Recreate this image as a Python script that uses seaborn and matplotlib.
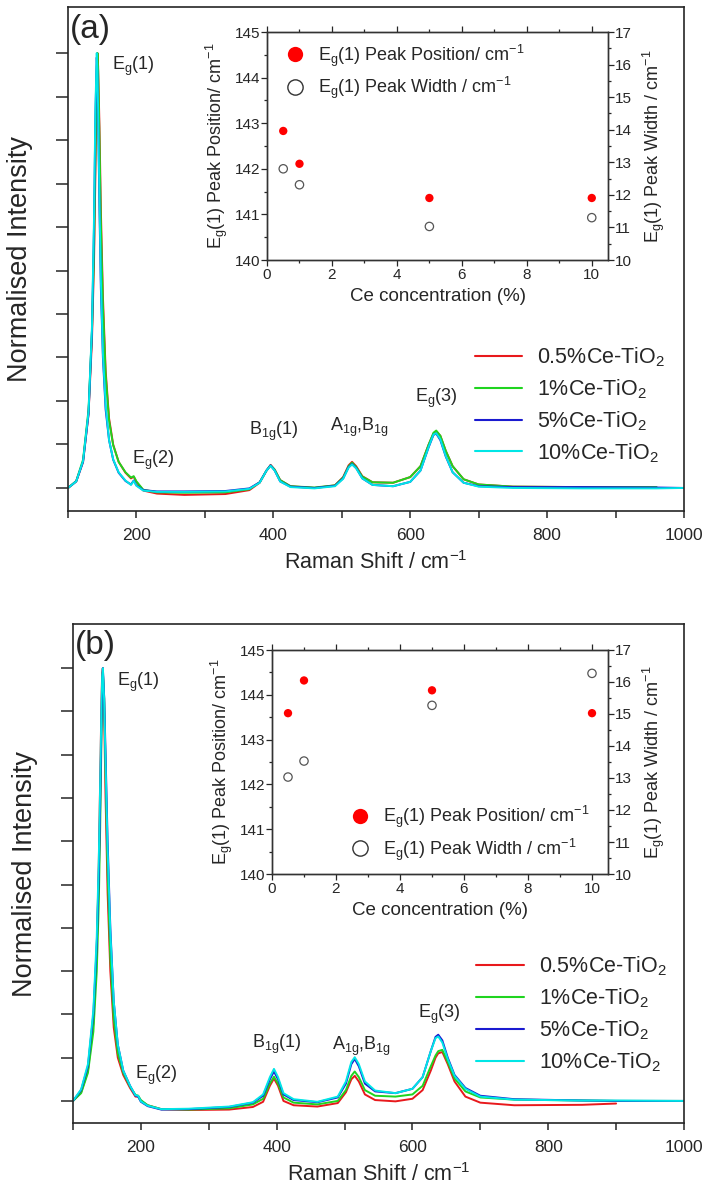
import numpy as np
import pandas as pd
import matplotlib
matplotlib.use("Agg")
import matplotlib.pyplot as plt
from matplotlib.ticker import MultipleLocator, NullFormatter
from matplotlib.lines import Line2D
import seaborn as sns

sns.set_style("ticks")
plt.rcParams["font.family"] = ["Liberation Sans", "DejaVu Sans"]
plt.rcParams["mathtext.fontset"] = "custom"
plt.rcParams["mathtext.rm"] = "Liberation Sans"
plt.rcParams["mathtext.it"] = "Liberation Sans:italic"
plt.rcParams["mathtext.bf"] = "Liberation Sans:bold"

# ---------------- data ----------------
samples = ["0.5%Ce-TiO$_2$", "1%Ce-TiO$_2$", "5%Ce-TiO$_2$", "10%Ce-TiO$_2$"]
colors = ["#e8191c", "#1fd41f", "#1a1ad0", "#00e6e6"]

shift_a = [100, 112, 122, 130, 135, 138, 140, 142, 143, 144, 146, 148, 151, 155, 160, 166, 174, 184, 192, 196,
           200, 210, 230, 270, 330, 365, 380, 390, 396, 402, 410, 425, 460, 490, 502, 510, 515, 521, 530, 545,
           575, 600, 615, 627, 634, 638, 644, 652, 662, 678, 700, 750, 850, 960, 1000]
a_05 = [0.0, 0.015, 0.06, 0.17, 0.34, 0.52, 0.72, 0.93, 1.0, 0.97, 0.83, 0.64, 0.44, 0.27, 0.16, 0.10, 0.06, 0.035, 0.022, 0.026,
        0.014, -0.006, -0.013, -0.016, -0.014, -0.005, 0.012, 0.04, 0.053, 0.042, 0.018, 0.004, 0.0, 0.006, 0.025, 0.052, 0.06, 0.05, 0.027, 0.013,
        0.012, 0.025, 0.05, 0.10, 0.125, 0.13, 0.12, 0.085, 0.05, 0.02, 0.008, 0.003, 0.002, 0.001, np.nan]
a_1 = [0.0, 0.016, 0.065, 0.18, 0.36, 0.55, 0.76, 0.96, 1.0, 0.96, 0.80, 0.61, 0.42, 0.26, 0.155, 0.098, 0.06, 0.036, 0.024, 0.027,
       0.015, -0.004, -0.010, -0.011, -0.010, -0.003, 0.013, 0.04, 0.052, 0.042, 0.018, 0.004, 0.001, 0.006, 0.024, 0.05, 0.058, 0.048, 0.026, 0.013,
       0.012, 0.025, 0.05, 0.10, 0.127, 0.132, 0.12, 0.085, 0.05, 0.02, 0.008, 0.003, 0.002, 0.002, np.nan]
a_5 = [0.0, 0.015, 0.06, 0.17, 0.36, 0.60, 0.85, 0.99, 0.95, 0.85, 0.64, 0.46, 0.30, 0.18, 0.11, 0.065, 0.035, 0.016, 0.008, 0.017,
       0.006, -0.005, -0.008, -0.008, -0.007, -0.001, 0.013, 0.04, 0.052, 0.04, 0.015, 0.003, 0.0, 0.005, 0.022, 0.048, 0.055, 0.046, 0.022, 0.007,
       0.004, 0.014, 0.04, 0.094, 0.122, 0.125, 0.11, 0.072, 0.036, 0.012, 0.004, 0.002, 0.002, 0.001, 0.0]
a_10 = [0.0, 0.015, 0.062, 0.175, 0.37, 0.62, 0.87, 1.0, 0.96, 0.87, 0.66, 0.48, 0.31, 0.19, 0.11, 0.066, 0.036, 0.017, 0.007, 0.016,
        0.005, -0.006, -0.009, -0.009, -0.008, -0.002, 0.012, 0.04, 0.051, 0.04, 0.015, 0.002, -0.001, 0.004, 0.021, 0.047, 0.054, 0.045, 0.022, 0.007,
        0.004, 0.014, 0.04, 0.095, 0.123, 0.126, 0.112, 0.073, 0.036, 0.012, 0.003, 0.0, -0.001, -0.001, 0.0]

shift_b = [100, 112, 122, 130, 135, 138, 140, 142, 143, 144, 146, 148, 151, 155, 160, 166, 174, 184, 192, 196,
           200, 210, 230, 270, 330, 365, 380, 390, 396, 402, 410, 425, 460, 490, 502, 510, 515, 521, 530, 545,
           575, 600, 615, 627, 634, 638, 644, 652, 662, 678, 700, 750, 850, 900, 1000]
b_05 = [0.0, 0.02, 0.07, 0.18, 0.35, 0.55, 0.74, 0.93, 0.99, 1.0, 0.88, 0.70, 0.48, 0.30, 0.17, 0.10, 0.06, 0.03, 0.01, 0.01,
        0.0, -0.01, -0.019, -0.021, -0.020, -0.014, -0.002, 0.035, 0.052, 0.035, 0.0, -0.010, -0.013, -0.005, 0.02, 0.05, 0.058, 0.045, 0.015, 0.002,
        -0.001, 0.005, 0.025, 0.07, 0.10, 0.11, 0.113, 0.085, 0.045, 0.01, -0.004, -0.010, -0.009, -0.006, np.nan]
b_1 = [0.0, 0.018, 0.065, 0.16, 0.30, 0.46, 0.63, 0.85, 0.94, 0.99, 0.93, 0.76, 0.53, 0.33, 0.19, 0.11, 0.065, 0.033, 0.014, 0.012,
       0.002, -0.01, -0.019, -0.020, -0.017, -0.008, 0.005, 0.04, 0.056, 0.04, 0.008, -0.004, -0.008, 0.0, 0.025, 0.058, 0.068, 0.055, 0.025, 0.012,
       0.01, 0.015, 0.035, 0.08, 0.105, 0.115, 0.118, 0.09, 0.052, 0.022, 0.008, 0.003, 0.001, 0.0, 0.0]
b_5 = [0.0, 0.025, 0.08, 0.20, 0.36, 0.52, 0.68, 0.88, 0.96, 1.0, 0.93, 0.80, 0.60, 0.40, 0.23, 0.13, 0.07, 0.035, 0.012, 0.01,
       -0.002, -0.012, -0.020, -0.019, -0.014, -0.004, 0.012, 0.05, 0.068, 0.05, 0.015, 0.002, -0.003, 0.008, 0.04, 0.085, 0.097, 0.08, 0.04, 0.022,
       0.018, 0.028, 0.055, 0.115, 0.148, 0.153, 0.14, 0.10, 0.06, 0.03, 0.012, 0.004, 0.001, 0.0, 0.0]
b_10 = [0.0, 0.027, 0.085, 0.21, 0.38, 0.56, 0.73, 0.92, 0.98, 1.0, 0.92, 0.78, 0.58, 0.39, 0.23, 0.13, 0.07, 0.035, 0.013, 0.012,
        -0.001, -0.011, -0.019, -0.018, -0.013, -0.003, 0.015, 0.055, 0.074, 0.055, 0.018, 0.004, -0.002, 0.01, 0.045, 0.09, 0.101, 0.085, 0.045, 0.024,
        0.018, 0.028, 0.055, 0.115, 0.145, 0.149, 0.135, 0.097, 0.058, 0.028, 0.01, 0.003, 0.001, 0.001, 0.0]

conc = [0.5, 1, 5, 10]
pos_a = [142.83, 142.11, 141.36, 141.36]
width_a = [12.80, 12.31, 11.03, 11.30]
pos_b = [143.59, 144.32, 144.10, 143.59]
width_b = [13.03, 13.53, 15.27, 16.27]

peak_labels = ["E$_{\\mathregular{g}}$(1)", "E$_{\\mathregular{g}}$(2)", "B$_{\\mathregular{1g}}$(1)",
               "A$_{\\mathregular{1g}}$,B$_{\\mathregular{1g}}$", "E$_{\\mathregular{g}}$(3)"]

# ---------------- figure ----------------
W, H = 709, 1199
fig = plt.figure(figsize=(W / 100, H / 100), dpi=100)


def rect(l, r, t, b):
    return [l / W, 1 - b / H, (r - l) / W, (b - t) / H]


def long_df(shift, series):
    frames = []
    for name, vals in zip(samples, series):
        frames.append(pd.DataFrame({"shift": shift, "intensity": vals, "sample": name}))
    return pd.concat(frames, ignore_index=True).dropna()


def main_panel(r, shift, series, ylim, tag, label_pos, leg_anchor):
    ax = fig.add_axes(r)
    df = long_df(shift, series)
    sns.lineplot(data=df, x="shift", y="intensity", hue="sample", hue_order=samples,
                 palette=colors, estimator=None, sort=True, lw=1.4, ax=ax, legend=False)
    ax.set_xlim(100, 1000)
    ax.set_ylim(*ylim)
    ax.xaxis.set_major_locator(MultipleLocator(200))
    ax.xaxis.set_minor_locator(MultipleLocator(100))
    ax.set_yticks(np.arange(0, 1.01, 0.1))
    ax.yaxis.set_major_formatter(NullFormatter())
    ax.tick_params(axis="x", which="both", direction="out", length=5, width=1.1, labelsize=12.5, pad=7)
    ax.tick_params(axis="y", which="both", direction="out", length=9, width=1.1, pad=2)
    for s in ax.spines.values():
        s.set_visible(True)
        s.set_linewidth(1.2)
    ax.set_xlabel("Raman Shift / cm$^{\\mathregular{-1}}$", fontsize=15.5, labelpad=6)
    ax.set_ylabel("Normalised Intensity", fontsize=19.5, labelpad=14)
    ax.text(103, ylim[1] - 0.015, tag, fontsize=24, ha="left", va="top")
    for txt, (x, y) in zip(peak_labels, label_pos):
        ax.text(x, y, txt, fontsize=13, ha="center", va="center")
    handles = [Line2D([], [], color=c, lw=1.5) for c in colors]
    ax.legend(handles, samples, loc="upper left", bbox_to_anchor=leg_anchor, frameon=False,
              fontsize=15.5, handlelength=2.2, handletextpad=0.7, labelspacing=0.38,
              borderpad=0, borderaxespad=0)
    return ax


def inset(r, pos, width, leg_loc, leg_anchor):
    ax = fig.add_axes(r)
    ax.set_facecolor("white")
    ax2 = ax.twinx()
    sns.scatterplot(x=conc, y=pos, ax=ax, color="#ff0000", s=36, edgecolor="none", zorder=3)
    sns.scatterplot(x=conc, y=width, ax=ax2, facecolor="none", edgecolor="#555555", s=36, linewidth=0.9, zorder=3)
    ax.set_xlim(0, 10.5)
    ax.set_ylim(140, 145)
    ax2.set_ylim(10, 17)
    ax.xaxis.set_major_locator(MultipleLocator(2))
    ax.xaxis.set_minor_locator(MultipleLocator(1))
    ax.yaxis.set_major_locator(MultipleLocator(1))
    ax.yaxis.set_minor_locator(MultipleLocator(0.5))
    ax2.yaxis.set_major_locator(MultipleLocator(1))
    ax2.yaxis.set_minor_locator(MultipleLocator(0.5))
    ax.tick_params(axis="x", which="both", direction="out", top=True, labelsize=11, pad=2)
    ax.tick_params(axis="x", which="major", length=4, width=0.9)
    ax.tick_params(axis="x", which="minor", length=2.5, width=0.9)
    ax.tick_params(axis="y", which="major", direction="out", length=4, width=0.9, labelsize=11, pad=1)
    ax.tick_params(axis="y", which="minor", direction="out", length=2.5, width=0.9)
    ax2.tick_params(axis="y", which="major", direction="out", length=4, width=0.9, labelsize=11, pad=1)
    ax2.tick_params(axis="y", which="minor", direction="out", length=2.5, width=0.9)
    for s in list(ax.spines.values()) + list(ax2.spines.values()):
        s.set_visible(True)
        s.set_linewidth(1.0)
        s.set_color("#333333")
    ax.set_xlabel("Ce concentration (%)", fontsize=13.5, labelpad=4)
    ax.set_ylabel("E$_{\\mathregular{g}}$(1) Peak Position/ cm$^{\\mathregular{-1}}$", fontsize=13, labelpad=3)
    ax2.set_ylabel("E$_{\\mathregular{g}}$(1) Peak Width / cm$^{\\mathregular{-1}}$", fontsize=13, labelpad=6)
    h1 = Line2D([], [], ls="none", marker="o", ms=11, mfc="#ff0000", mec="none")
    h2 = Line2D([], [], ls="none", marker="o", ms=11, mfc="none", mec="#333333", mew=1.0)
    ax2.legend([h1, h2], ["E$_{\\mathregular{g}}$(1) Peak Position/ cm$^{\\mathregular{-1}}$",
                          "E$_{\\mathregular{g}}$(1) Peak Width / cm$^{\\mathregular{-1}}$"],
               loc=leg_loc, bbox_to_anchor=leg_anchor, frameon=False, fontsize=13,
               handlelength=1.0, handletextpad=0.8, labelspacing=0.35, borderpad=0, borderaxespad=0)
    return ax, ax2


ylim_a = (-0.053, 1.106)
ylim_b = (-0.051, 1.102)
labels_a = [(196, 0.97), (224, 0.064), (400, 0.13), (526, 0.14), (638, 0.205)]
labels_b = [(196, 0.968), (223, 0.06), (400, 0.13), (525, 0.127), (640, 0.2)]

axa = main_panel(rect(68, 684, 7, 511), shift_a, [a_05, a_1, a_5, a_10], ylim_a, "(a)", labels_a, (0.66, 0.328))
axb = main_panel(rect(73, 684, 624, 1123), shift_b, [b_05, b_1, b_5, b_10], ylim_b, "(b)", labels_b, (0.66, 0.337))

inset(rect(267, 608, 32, 260), pos_a, width_a, "upper left", (0.055, 0.955))
inset(rect(272, 608, 650, 874), pos_b, width_b, "lower left", (0.235, 0.05))

fig.savefig("out.png", dpi=100)
